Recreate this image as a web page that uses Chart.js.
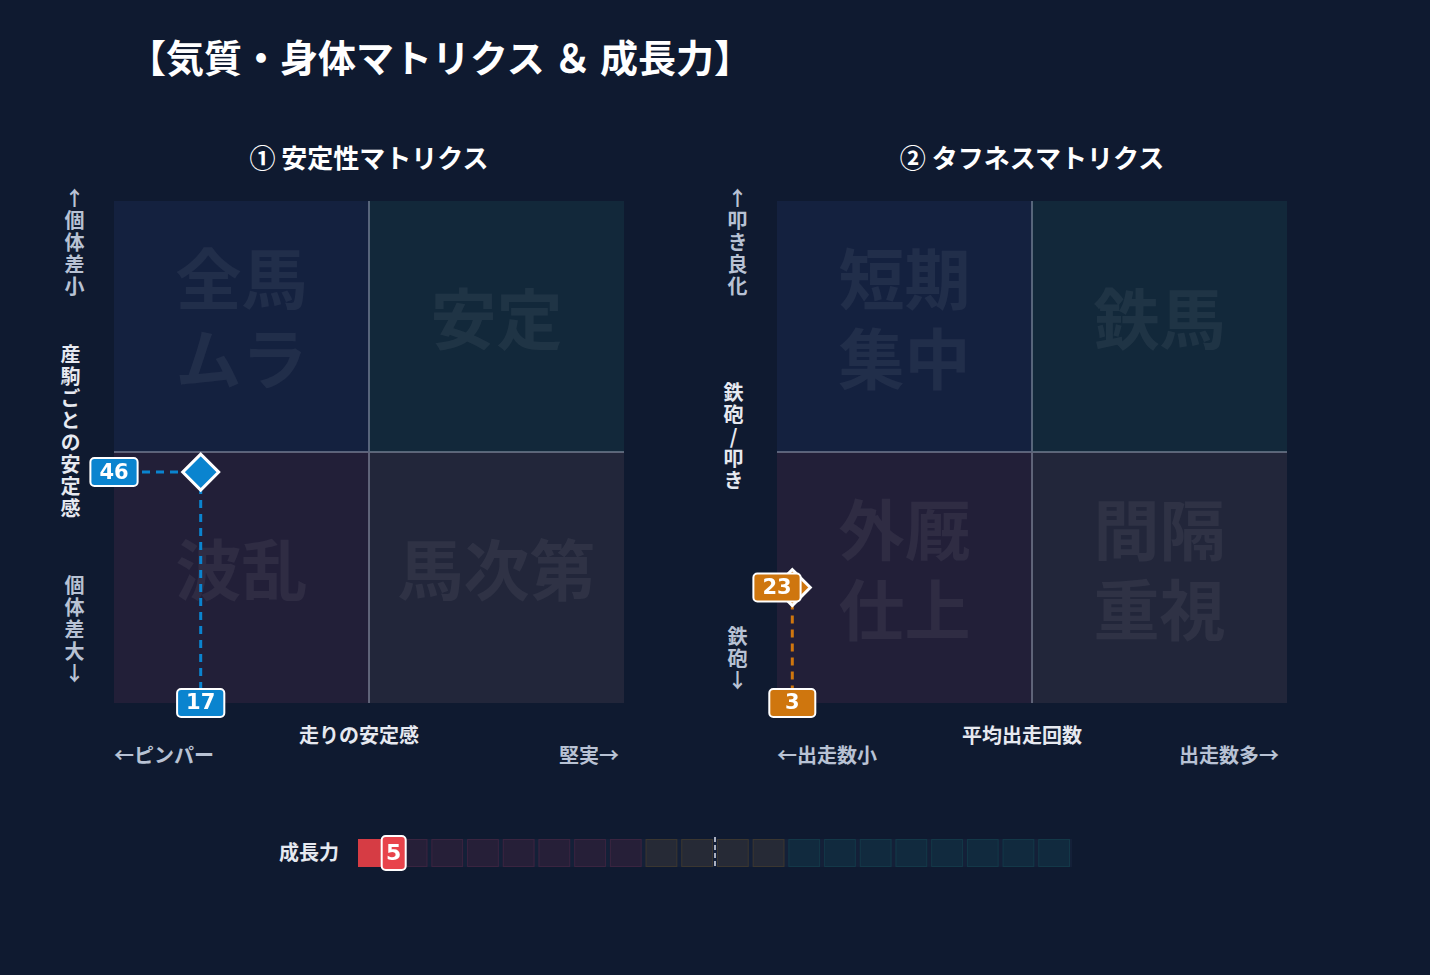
<!DOCTYPE html>
<html lang="ja">
<head>
<meta charset="UTF-8" />
<title>気質・身体マトリクス & 成長力</title>
<script src="https://cdn.jsdelivr.net/npm/chart.js"></script>
<style>
  body { margin:0; width:1430px; height:975px; background:#0f1a30; font-family:"Noto Sans CJK JP","Noto Sans",sans-serif; color:#fff; position:relative; overflow:hidden; }
  .abs { position:absolute; }
  .title { left:128px; top:28px; font-size:38px; font-weight:bold; }
  .sub { font-size:26px; font-weight:bold; width:510px; text-align:center; top:138px; }
  .lbl { font-size:20px; font-weight:bold; color:#e6e9f0; }
  .vt { writing-mode:vertical-rl; text-orientation:upright; font-size:20px; font-weight:bold; color:#b8c2d4; letter-spacing:2px; }
</style>
</head>
<body>
<div class="abs title">【気質・身体マトリクス ＆ 成長力】</div>
<div class="abs sub" style="left:114px">① 安定性マトリクス</div>
<div class="abs sub" style="left:777px">② タフネスマトリクス</div>

<div class="abs vt" style="left:60px;top:188px">↑個体差小</div>
<div class="abs vt" style="left:56px;top:344px;color:#e6e9f0">産駒ごとの安定感</div>
<div class="abs vt" style="left:60px;top:575px">個体差大↓</div>
<div class="abs vt" style="left:723px;top:188px">↑叩き良化</div>
<div class="abs vt" style="left:719px;top:382px;color:#e6e9f0">鉄砲/叩き</div>
<div class="abs vt" style="left:723px;top:626px">鉄砲↓</div>

<div class="abs lbl" style="left:299px;top:720px">走りの安定感</div>
<div class="abs lbl" style="left:114px;top:740px;color:#b8c2d4">←ピンパー</div>
<div class="abs lbl" style="left:559px;top:740px;color:#b8c2d4">堅実→</div>
<div class="abs lbl" style="left:962px;top:720px">平均出走回数</div>
<div class="abs lbl" style="left:777px;top:740px;color:#b8c2d4">←出走数小</div>
<div class="abs lbl" style="left:1179px;top:740px;color:#b8c2d4">出走数多→</div>
<div class="abs lbl" style="left:279px;top:837px">成長力</div>

<div class="abs" style="left:60px;top:180px;width:620px;height:600px"><canvas id="c1"></canvas></div>
<div class="abs" style="left:723px;top:180px;width:620px;height:600px"><canvas id="c2"></canvas></div>
<div class="abs" style="left:340px;top:830px;width:760px;height:46px"><canvas id="c3"></canvas></div>

<script>
// データ
const stabilityPoint = { x: 17, y: 46 };
const toughnessPoint = { x: 3, y: 23 };
const quadrantLabels1 = ["全馬\nムラ", "安定", "波乱", "馬次第"];
const quadrantLabels2 = ["短期\n集中", "鉄馬", "外厩\n仕上", "間隔\n重視"];
const growthValue = 5;
const growthCells = 20;

const quadColors = ["#14213f", "#12283a", "#221f38", "#22263a"];

function quadPlugin(labels, color) {
  return {
    id: "quad",
    beforeDatasetsDraw(chart) {
      const { ctx, scales: { x, y } } = chart;
      const x0 = x.getPixelForValue(0), x1 = x.getPixelForValue(50), x2 = x.getPixelForValue(100);
      const y0 = y.getPixelForValue(100), y1 = y.getPixelForValue(50), y2 = y.getPixelForValue(0);
      const rects = [[x0, y0, x1, y1], [x1, y0, x2, y1], [x0, y1, x1, y2], [x1, y1, x2, y2]];
      ctx.save();
      rects.forEach((r, i) => {
        ctx.fillStyle = quadColors[i];
        ctx.fillRect(r[0], r[1], r[2] - r[0], r[3] - r[1]);
        ctx.fillStyle = "rgba(255,255,255,0.06)";
        ctx.font = "bold 66px 'Noto Sans CJK JP'";
        ctx.textAlign = "center"; ctx.textBaseline = "middle";
        const lines = labels[i].split("\n");
        const cx = (r[0] + r[2]) / 2, cy = (r[1] + r[3]) / 2 - 8;
        lines.forEach((l, k) => ctx.fillText(l, cx, cy + (k - (lines.length - 1) / 2) * 80));
      });
      ctx.strokeStyle = "rgba(170,180,200,0.45)"; ctx.lineWidth = 2;
      ctx.beginPath(); ctx.moveTo(x1, y0); ctx.lineTo(x1, y2); ctx.moveTo(x0, y1); ctx.lineTo(x2, y1); ctx.stroke();
      // dashed guides
      const p = chart.data.datasets[0].data[0];
      const px = x.getPixelForValue(p.x), py = y.getPixelForValue(p.y);
      ctx.setLineDash([8, 6]); ctx.strokeStyle = color; ctx.lineWidth = 3;
      ctx.beginPath(); ctx.moveTo(x0, py); ctx.lineTo(px, py); ctx.moveTo(px, py); ctx.lineTo(px, y2); ctx.stroke();
      ctx.restore();
    },
    afterDraw(chart) {
      const { ctx, scales: { x, y } } = chart;
      const p = chart.data.datasets[0].data[0];
      const px = x.getPixelForValue(p.x), py = y.getPixelForValue(p.y);
      const box = (cx, cy, t) => {
        ctx.save();
        ctx.font = "bold 21px 'DejaVu Sans'";
        const w = Math.max(46, ctx.measureText(t).width + 18), h = 28;
        ctx.fillStyle = color; ctx.strokeStyle = "#fff"; ctx.lineWidth = 2;
        ctx.beginPath(); ctx.roundRect(cx - w / 2, cy - h / 2, w, h, 4); ctx.fill(); ctx.stroke();
        ctx.fillStyle = "#fff"; ctx.textAlign = "center"; ctx.textBaseline = "middle";
        ctx.fillText(t, cx, cy + 1);
        ctx.restore();
      };
      box(x.getPixelForValue(0), py, String(p.y));
      box(px, y.getPixelForValue(0), String(p.x));
    }
  };
}

function matrix(id, point, labels, color, labelOverPoint) {
  const pl = quadPlugin(labels, color);
  new Chart(document.getElementById(id), {
    type: "scatter",
    data: { datasets: [{ data: [point], pointStyle: "rectRot", pointRadius: 18, pointHoverRadius: 18,
      backgroundColor: color, borderColor: "#fff", borderWidth: 3 }] },
    options: {
      responsive: true, maintainAspectRatio: false, animation: false,
      layout: { padding: { left: 54, right: 56, top: 14, bottom: 77 } },
      scales: { x: { min: 0, max: 100, display: false }, y: { min: 0, max: 100, display: false } },
      plugins: { legend: { display: false }, tooltip: { enabled: false } }
    },
    plugins: [pl]
  });
}
matrix("c1", stabilityPoint, quadrantLabels1, "#0a84cf");
matrix("c2", toughnessPoint, quadrantLabels2, "#cf760e");

// 成長力バー
const cellFill = i => i < 8 ? "#261f38" : i < 12 ? "#262a36" : "#112a3e";
const cellLine = i => i < 8 ? "#3a2440" : i < 12 ? "#3a3630" : "#133848";
new Chart(document.getElementById("c3"), {
  type: "bar",
  data: { labels: ["成長力"], datasets: [{ data: [growthValue], backgroundColor: "rgba(0,0,0,0)" }] },
  options: {
    indexAxis: "y", responsive: true, maintainAspectRatio: false, animation: false,
    layout: { padding: { left: 18, right: 28, top: 9, bottom: 9 } },
    scales: { x: { min: 0, max: 100, display: false }, y: { display: false } },
    plugins: { legend: { display: false }, tooltip: { enabled: false } }
  },
  plugins: [{
    id: "cells",
    afterDatasetsDraw(chart) {
      const { ctx, chartArea: a, scales: { x } } = chart;
      const step = 100 / growthCells;
      ctx.save();
      ctx.fillStyle = "#142038"; ctx.fillRect(a.left, a.top, a.right - a.left, a.bottom - a.top);
      for (let i = 0; i < growthCells; i++) {
        const l = x.getPixelForValue(i * step) + 2, r = x.getPixelForValue((i + 1) * step) - 2;
        ctx.fillStyle = cellFill(i); ctx.fillRect(l, a.top, r - l, a.bottom - a.top);
        ctx.strokeStyle = cellLine(i); ctx.lineWidth = 1; ctx.strokeRect(l + 0.5, a.top + 0.5, r - l - 1, a.bottom - a.top - 1);
      }
      const v = x.getPixelForValue(growthValue);
      ctx.fillStyle = "#d63c44"; ctx.fillRect(a.left, a.top, v - a.left, a.bottom - a.top);
      const m = x.getPixelForValue(50);
      ctx.setLineDash([5, 3]); ctx.strokeStyle = "#aab0c0"; ctx.lineWidth = 2;
      ctx.beginPath(); ctx.moveTo(m, a.top - 2); ctx.lineTo(m, a.bottom + 2); ctx.stroke();
      ctx.setLineDash([]);
      ctx.fillStyle = "#e8434b"; ctx.strokeStyle = "#fff"; ctx.lineWidth = 2;
      ctx.beginPath(); ctx.roundRect(v - 12, a.top - 3, 24, a.bottom - a.top + 6, 4); ctx.fill(); ctx.stroke();
      ctx.fillStyle = "#fff"; ctx.font = "bold 22px 'DejaVu Sans'"; ctx.textAlign = "center"; ctx.textBaseline = "middle";
      ctx.fillText(String(growthValue), v, (a.top + a.bottom) / 2 + 1);
      ctx.restore();
    }
  }]
});
</script>
</body>
</html>
